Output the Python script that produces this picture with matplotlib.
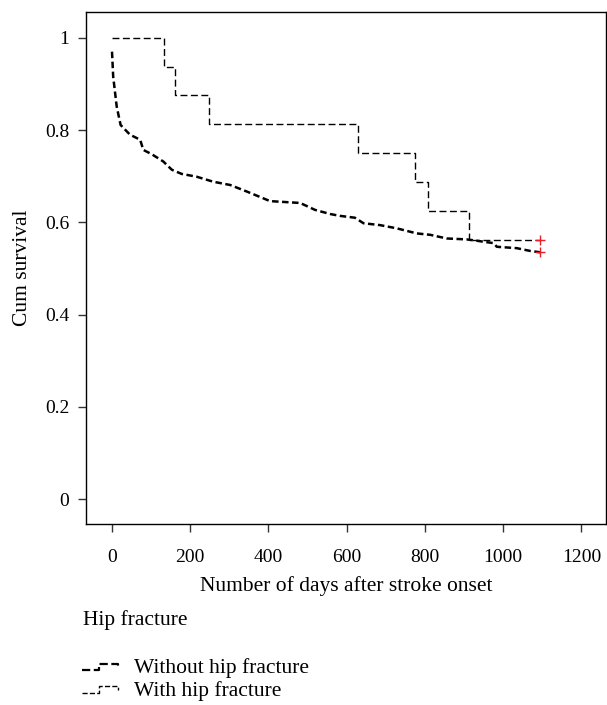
import numpy as np
import matplotlib
matplotlib.use("Agg")
import matplotlib.pyplot as plt
from matplotlib.lines import Line2D
from matplotlib.legend_handler import HandlerBase

plt.rcParams['font.family'] = ['Liberation Serif', 'DejaVu Serif']

# with hip fracture (n=16), KM steps
frac_days = [0, 134, 161, 248, 628, 775, 809, 913, 1095]
frac_surv = [1.0, 0.9375, 0.875, 0.8125, 0.75, 0.6875, 0.625, 0.5625, 0.5625]

# without hip fracture
nofrac_days = [0, 3, 12, 22, 46, 72, 80, 101, 131, 153, 178, 216, 259, 302, 344, 387,
               404, 481, 519, 558, 583, 621, 643, 685, 728, 779, 813, 856, 907, 933,
               975, 984, 1035, 1069, 1095]
nofrac_surv = [0.97, 0.916, 0.851, 0.811, 0.79, 0.779, 0.757, 0.748, 0.732, 0.714, 0.705,
               0.699, 0.688, 0.681, 0.667, 0.652, 0.646, 0.642, 0.627, 0.618, 0.614, 0.61,
               0.598, 0.594, 0.587, 0.576, 0.573, 0.565, 0.563, 0.56, 0.555, 0.547, 0.544,
               0.538, 0.535]

censor_days = [1095, 1095]
censor_surv = [0.5625, 0.535]

x_ticks = [0, 200, 400, 600, 800, 1000, 1200]
y_ticks = [0, 0.2, 0.4, 0.6, 0.8, 1.0]
y_labels = ["0", "0.2", "0.4", "0.6", "0.8", "1"]


class StepHandler(HandlerBase):
    # small staircase glyph used as legend key
    def create_artists(self, legend, orig_handle, xdescent, ydescent, width, height, fontsize, trans):
        xs = np.array([0, 0.45, 0.45, 0.95, 0.95]) * width - xdescent
        ys = np.array([0.2, 0.2, 0.65, 0.65, 0.4]) * height - ydescent
        ln = Line2D(xs, ys, color=orig_handle.get_color(), lw=orig_handle.get_linewidth(),
                    linestyle=orig_handle.get_linestyle(), transform=trans)
        return [ln]


fig = plt.figure(figsize=(6.07, 7.05), dpi=100)
ax = fig.add_axes([86 / 607, 1 - 524 / 705, 520 / 607, 512 / 705])

ax.plot(frac_days, frac_surv, drawstyle='steps-post', color='black', lw=1.0,
        linestyle=(0, (5, 2.5)))
ax.plot(nofrac_days, nofrac_surv, color='black', lw=1.8, linestyle=(0, (2.6, 1.4)))
ax.plot(censor_days, censor_surv, linestyle='none', marker='+', color='#e8202a',
        markersize=7, markeredgewidth=1.0)

ax.set_xlim(-66.5, 1263)
ax.set_ylim(-0.054, 1.056)
ax.set_xticks(x_ticks)
ax.set_yticks(y_ticks)
ax.set_yticklabels(y_labels)
ax.tick_params(axis='x', direction='out', length=6, width=1, pad=12, labelsize=14, color='#333333')
ax.tick_params(axis='y', direction='out', length=6, width=1, pad=6, labelsize=14, color='#333333')
for sp in ax.spines.values():
    sp.set_linewidth(1.0)

ax.set_xlabel("Number of days after stroke onset", fontsize=15.5, labelpad=7)
ax.set_ylabel("Cum survival", fontsize=15.5, labelpad=9)

fig.text(83 / 607, 1 - 620 / 705, "Hip fracture", fontsize=15.5, ha='left', va='center')

h1 = Line2D([], [], color='black', lw=1.6, linestyle=(0, (2.5, 1.5)))
h2 = Line2D([], [], color='black', lw=1.0, linestyle=(0, (4, 2.5)))
fig.legend([h1, h2], ["Without hip fracture", "With hip fracture"],
           handler_map={Line2D: StepHandler()},
           loc='upper left', bbox_to_anchor=(78 / 607, 1 - 654 / 705),
           frameon=False, fontsize=15.5, handlelength=1.75, handletextpad=0.65,
           labelspacing=0.1, borderaxespad=0, borderpad=0.2)

fig.savefig("out.png", dpi=100)
